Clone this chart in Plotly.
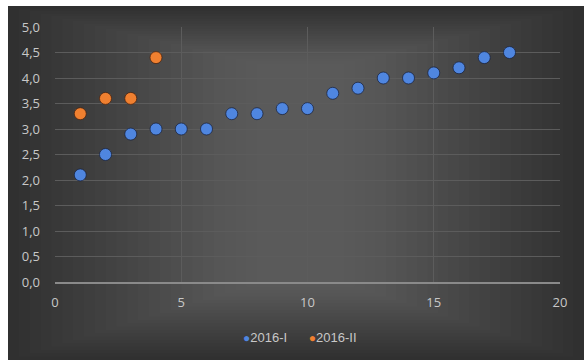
import plotly.graph_objects as go

x_2016_I = list(range(1, 19))
y_2016_I = [2.1, 2.5, 2.9, 3.0, 3.0, 3.0, 3.3, 3.3, 3.4, 3.4, 3.7, 3.8, 4.0, 4.0, 4.1, 4.2, 4.4, 4.5]
x_2016_II = [1, 2, 3, 4]
y_2016_II = [3.3, 3.6, 3.6, 4.4]
y_ticks = [0, 0.5, 1, 1.5, 2, 2.5, 3, 3.5, 4, 4.5, 5]
x_ticks = [0, 5, 10, 15, 20]
series_names = ["2016-I", "2016-II"]
series_colors = ["#4f86e0", "#f08030"]

W, H = 584, 360
L, R, T, B = 55, 24, 27, 78
pw, ph = W - L - R, H - T - B

def px(xp):
    return (xp - L) / pw

def py(yp):
    return (H - B - yp) / ph

fig = go.Figure()
fig.add_trace(go.Scatter(
    x=x_2016_I, y=y_2016_I, mode="markers", name=series_names[0],
    marker=dict(size=12, color=series_colors[0], line=dict(color="rgba(20,30,60,0.7)", width=1)),
))
fig.add_trace(go.Scatter(
    x=x_2016_II, y=y_2016_II, mode="markers", name=series_names[1],
    marker=dict(size=12, color=series_colors[1], line=dict(color="rgba(70,30,10,0.7)", width=1)),
))

shapes = [
    dict(type="rect", xref="paper", yref="paper", layer="below",
         x0=px(8), x1=px(W + 5), y0=py(H + 5), y1=py(6),
         fillcolor="#2e2e2e", line=dict(width=0)),
]
n = 24
for i in range(n):
    f = i / n
    shapes.append(dict(type="rect", xref="paper", yref="paper", layer="below",
                       x0=px(8 + f * 260), x1=px(W - f * 250),
                       y0=py(H - f * 80), y1=py(6 + f * 60),
                       fillcolor="rgba(255,255,255,0.011)", line=dict(width=0)))

legend_text = "      ".join(
    "<span style='color:%s;font-size:12px'>●</span>%s" % (c, n_)
    for n_, c in zip(series_names, series_colors)
)

fig.update_layout(
    width=W, height=H,
    margin=dict(l=L, r=R, t=T, b=B),
    paper_bgcolor="white",
    plot_bgcolor="rgba(0,0,0,0)",
    separators=",.",
    font=dict(family="Open Sans, Liberation Sans, sans-serif", color="#c8c8c8", size=13),
    shapes=shapes,
    showlegend=False,
    annotations=[dict(text=legend_text, xref="paper", yref="paper",
                      x=px(300), y=py(337), xanchor="center", yanchor="middle",
                      showarrow=False, font=dict(size=13, color="#c8c8c8",
                      family="Liberation Sans Narrow, Liberation Sans, sans-serif"))],
    xaxis=dict(range=[0, 20], tickvals=x_ticks, showgrid=True, gridcolor="#5c5c5c",
               gridwidth=1, zeroline=False, showline=True, linecolor="#8a8a8a",
               linewidth=1.5, ticks="", ticklabelstandoff=8, fixedrange=True),
    yaxis=dict(range=[0, 5], tickvals=y_ticks, tickformat=".1f", showgrid=True,
               gridcolor="#5c5c5c", gridwidth=1, zeroline=False, showline=False,
               ticks="", ticklabelstandoff=14, fixedrange=True),
)

fig.write_html("out.html")
